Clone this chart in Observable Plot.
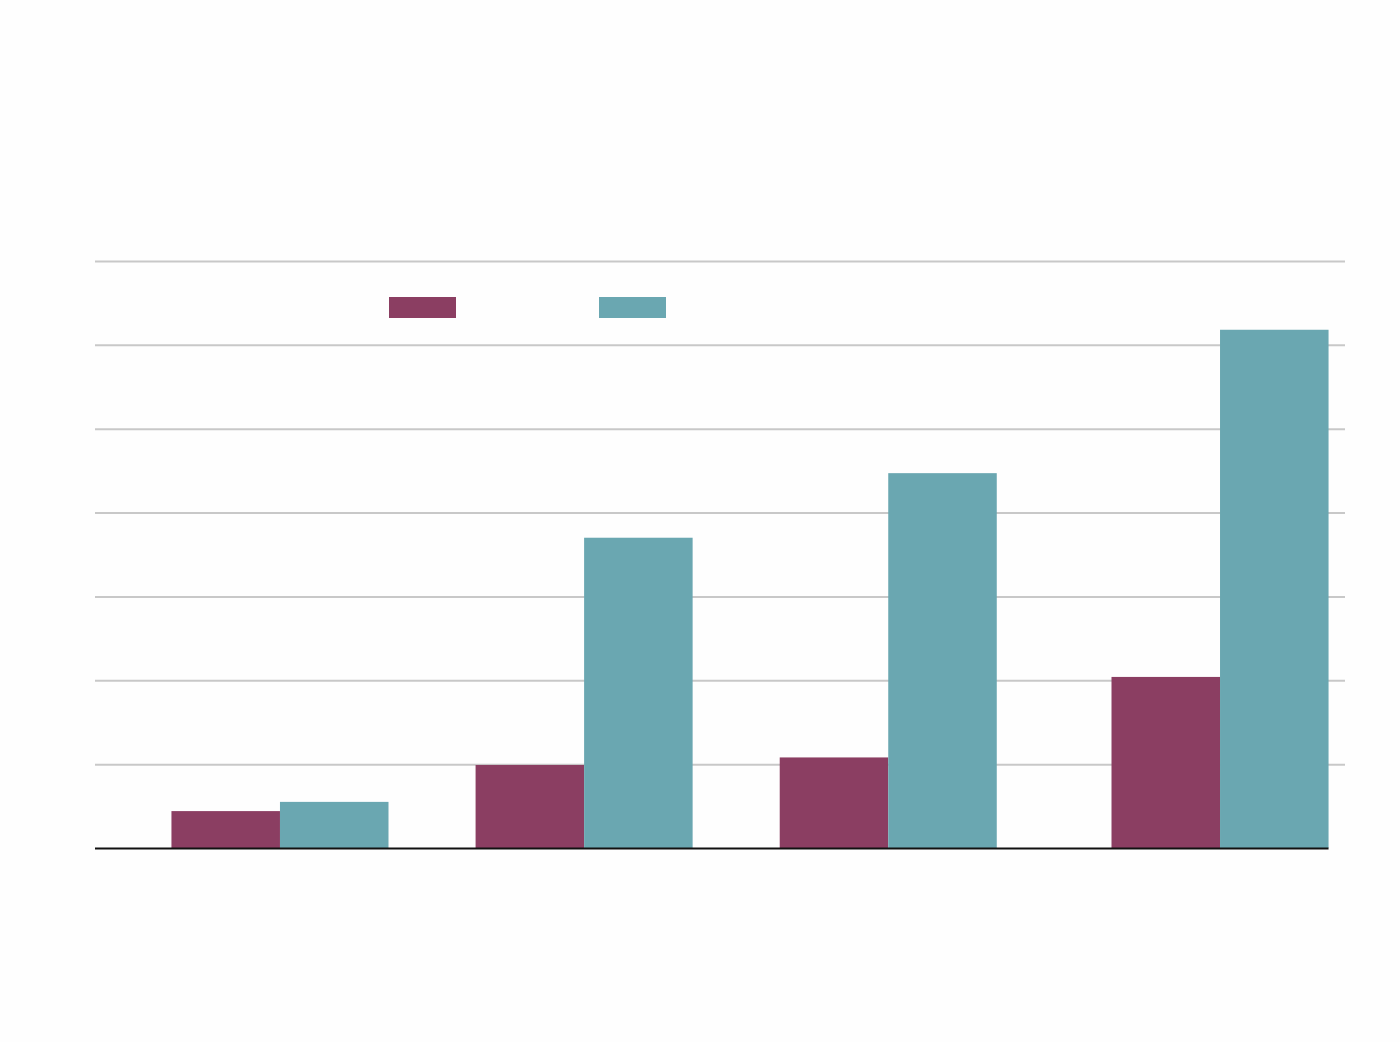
<!DOCTYPE html>
<html>
<head>
<meta charset="utf-8">
<script src="https://cdn.jsdelivr.net/npm/d3@7"></script>
<script src="https://cdn.jsdelivr.net/npm/@observablehq/plot@0.6"></script>
<style>
  html, body { margin: 0; padding: 0; background: #fefefe; }
  #wrap { position: relative; width: 1400px; height: 1042px; }
  .swatch { position: absolute; height: 21px; width: 67px; }
</style>
</head>
<body>
<div id="wrap"></div>
<script>
// Data
const periods = [0, 11, 22, 34];          // group positions along x
const seriesA = [0.44, 0.99, 1.08, 2.04]; // purple series
const seriesB = [0.55, 3.70, 4.47, 6.18]; // teal series
const yTicks = [1, 2, 3, 4, 5, 6, 7];

const colorA = "#8b3e62";
const colorB = "#6aa7b1";
const barW = 3.925;
const xDomain = [-6.69, 38.52];

const rows = periods.map((t, i) => ({t, a: seriesA[i], b: seriesB[i]}));

const chart = Plot.plot({
  width: 1400,
  height: 1042,
  marginLeft: 95,
  marginRight: 55,
  marginTop: 261,
  marginBottom: 194,
  style: {background: "#fefefe"},
  x: {domain: xDomain, axis: null},
  y: {domain: [0, 7], axis: null},
  marks: [
    Plot.ruleY(yTicks, {stroke: "#c8c8c8", strokeWidth: 2}),
    Plot.rectY(rows, {x1: d => d.t - barW, x2: d => d.t, y: "a", fill: colorA}),
    Plot.rectY(rows, {x1: d => d.t, x2: d => d.t + barW, y: "b", fill: colorB}),
    Plot.ruleY([0], {x1: xDomain[0], x2: periods[periods.length - 1] + barW, stroke: "#111", strokeWidth: 2})
  ]
});

const wrap = document.getElementById("wrap");
wrap.appendChild(chart);

// Legend swatches (no text in the reference)
[[colorA, 388.5], [colorB, 598.5]].forEach(([c, left]) => {
  const s = document.createElement("div");
  s.className = "swatch";
  s.style.background = c;
  s.style.left = left + "px";
  s.style.top = "297px";
  wrap.appendChild(s);
});
</script>
</body>
</html>
